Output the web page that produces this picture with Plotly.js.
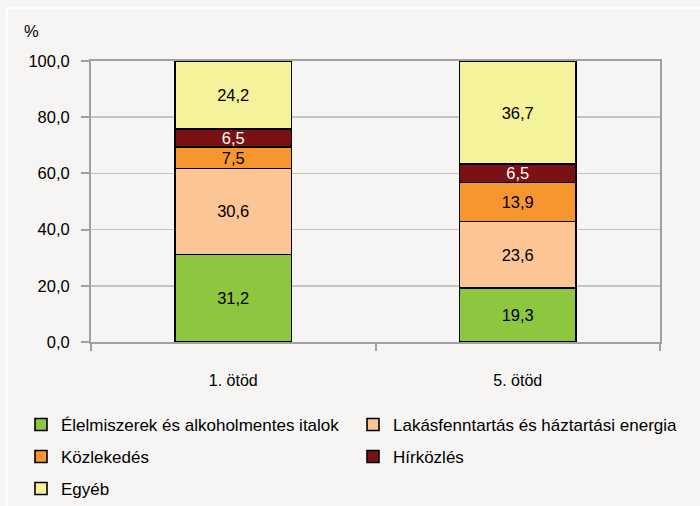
<!DOCTYPE html>
<html>
<head>
<meta charset="utf-8">
<script src="https://cdn.plot.ly/plotly-3.0.1.min.js"></script>
<style>html,body{margin:0;padding:0;background:#f6f5f3;}#chart{width:700px;height:506px;}</style>
</head>
<body>
<div id="chart"></div>
<script>
var categories = ["1. ötöd", "5. ötöd"];
var seriesNames = ["Élelmiszerek és alkoholmentes italok", "Lakásfenntartás és háztartási energia", "Közlekedés", "Hírközlés", "Egyéb"];
var elelmiszer = [31.2, 19.3];
var lakas = [30.6, 23.6];
var kozlekedes = [7.5, 13.9];
var hirkozles = [6.5, 6.5];
var egyeb = [24.2, 36.7];
var yTicks = [0, 20, 40, 60, 80, 100];

var FONT = "Liberation Sans, Arial, sans-serif";

var seriesValues = [elelmiszer, lakas, kozlekedes, hirkozles, egyeb];
var colors = ["#8dc63f", "#fcc595", "#f7962f", "#7a1215", "#f4f29a"];
var textColors = ["#000", "#000", "#000", "#fff", "#000"];
var legendIds = ["legend", "legend2", "legend3", "legend4", "legend5"];
// legend placement in pixels: [left, vertical centre]
var legendPos = [[21, 425], [353, 425], [21, 457], [353, 457], [21, 489]];

var traces = seriesValues.map(function (vals, i) {
  return {
    type: "bar",
    name: seriesNames[i],
    x: categories,
    y: vals,
    width: 0.41,
    marker: { color: colors[i], line: { color: "#000", width: 1.6 } },
    texttemplate: "%{y:.1f}",
    textposition: "inside",
    insidetextanchor: "middle",
    constraintext: "none",
    textangle: 0,
    textfont: { family: FONT, size: 16.5, color: textColors[i] },
    hoverinfo: "skip",
    legend: legendIds[i]
  };
});

var W = 700, H = 506;
var px0 = 91, px1 = 660, py0 = 342, py1 = 61;
function paperX(p) { return (p - px0) / (px1 - px0); }
function paperY(p) { return (py0 - p) / (py0 - py1); }

var legFont = { family: FONT, size: 17, color: "#000" };

var layout = {
  width: W,
  height: H,
  margin: { l: px0, r: W - px1, t: py1, b: H - py0, pad: 0, autoexpand: false },
  paper_bgcolor: "#f6f5f3",
  plot_bgcolor: "#f6f5f3",
  barmode: "stack",
  separators: ", ",
  font: { family: FONT, size: 16, color: "#000" },
  showlegend: true,
  xaxis: {
    type: "category",
    showline: true,
    linecolor: "#a0a0a0",
    linewidth: 2,
    mirror: true,
    ticks: "outside",
    tickson: "boundaries",
    ticklen: 7,
    tickwidth: 2,
    tickcolor: "#a0a0a0",
    showgrid: false,
    ticklabelstandoff: 23,
    tickfont: { family: FONT, size: 16, color: "#000" },
    fixedrange: true
  },
  yaxis: {
    range: [0, 100],
    tickvals: yTicks,
    tickformat: ".1f",
    showline: true,
    linecolor: "#a0a0a0",
    linewidth: 2,
    mirror: true,
    ticks: "outside",
    ticklen: 8,
    tickwidth: 2,
    tickcolor: "#a0a0a0",
    showgrid: true,
    gridcolor: "#c4c4c4",
    gridwidth: 1.5,
    zeroline: false,
    ticklabelstandoff: 8,
    tickfont: { family: FONT, size: 16.5, color: "#000" },
    fixedrange: true
  },
  annotations: [{
    text: "%",
    xref: "paper", yref: "paper",
    x: paperX(31), y: paperY(31),
    xanchor: "center", yanchor: "middle",
    showarrow: false,
    font: { family: FONT, size: 16.5, color: "#000" }
  }],
  shapes: [{
    type: "rect",
    xref: "paper", yref: "paper",
    x0: paperX(7), x1: paperX(712),
    y0: paperY(520), y1: paperY(8),
    line: { color: "#ffffff", width: 1.5 },
    fillcolor: "rgba(0,0,0,0)",
    layer: "below"
  }]
};

legendIds.forEach(function (id, i) {
  layout[id] = {
    xref: "container", yref: "container",
    x: legendPos[i][0] / W, xanchor: "left",
    y: 1 - legendPos[i][1] / H, yanchor: "middle",
    orientation: "v",
    font: legFont,
    bgcolor: "rgba(0,0,0,0)",
    borderwidth: 0
  };
});

Plotly.newPlot("chart", traces, layout, { displayModeBar: false, staticPlot: true });
</script>
</body>
</html>
